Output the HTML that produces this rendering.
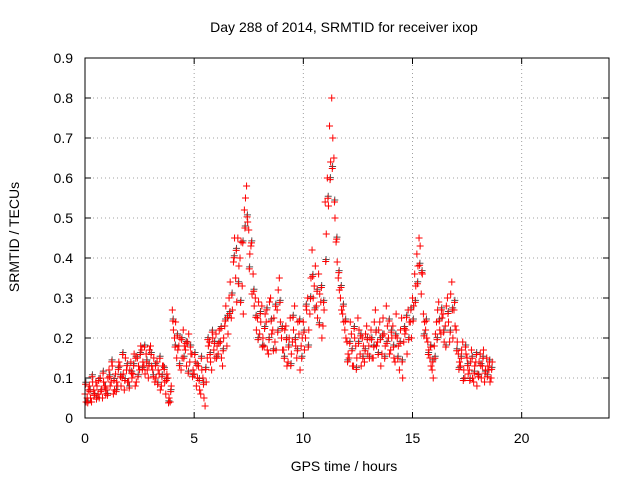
<!DOCTYPE html>
<html><head><meta charset="utf-8"><style>
body{margin:0;background:#fff}
svg{display:block;font-family:"Liberation Sans",sans-serif;font-size:14px}
</style></head><body>
<svg id="c" width="640" height="480">
<rect width="640" height="480" fill="#fff"/>
<text x="344" y="32" text-anchor="middle">Day 288 of 2014, SRMTID for receiver ixop</text>
<text x="344" y="471" text-anchor="middle">GPS time / hours</text>
<text transform="translate(19,237) rotate(-90)" text-anchor="middle">SRMTID / TECUs</text>
<g id="grid"></g><g id="ticks"></g><g id="marks"></g>
<rect x="85" y="58" width="524" height="360" fill="none" stroke="#000"/>
</svg>
<script>
const xTicks=[0,5,10,15,20];
const yTicks=[0,0.1,0.2,0.3,0.4,0.5,0.6,0.7,0.8,0.9];
const seriesStart=0, seriesStep=0.1;
const seriesA=[0.06,0.05,0.08,0.04,0.07,0.09,0.06,0.1,0.05,0.08,
0.07,0.12,0.09,0.06,0.11,0.08,0.13,0.1,0.07,0.12,
0.09,0.14,0.11,0.08,0.15,0.12,0.17,0.13,0.16,0.1,
0.18,0.12,0.09,0.14,0.11,0.08,0.13,0.06,0.1,0.04,
0.27,0.2,0.15,0.18,0.12,0.22,0.17,0.19,0.14,0.16,
0.11,0.08,0.13,0.06,0.1,0.03,0.15,0.19,0.12,0.17,
0.21,0.16,0.19,0.13,0.23,0.18,0.3,0.25,0.39,0.35,
0.45,0.4,0.33,0.52,0.58,0.47,0.43,0.36,0.3,0.25,
0.21,0.28,0.18,0.24,0.16,0.3,0.22,0.19,0.27,0.35,
0.2,0.17,0.23,0.14,0.25,0.19,0.28,0.15,0.21,0.18,
0.24,0.2,0.3,0.26,0.42,0.33,0.28,0.36,0.29,0.23,
0.54,0.6,0.73,0.8,0.65,0.44,0.35,0.3,0.26,0.22,
0.19,0.15,0.21,0.13,0.18,0.25,0.16,0.2,0.14,0.23,
0.18,0.22,0.15,0.27,0.19,0.24,0.16,0.21,0.28,0.2,
0.17,0.23,0.14,0.2,0.12,0.25,0.19,0.22,0.27,0.24,
0.3,0.36,0.41,0.45,0.31,0.26,0.22,0.19,0.15,0.12,
0.18,0.24,0.29,0.21,0.26,0.23,0.3,0.19,0.34,0.27,
0.22,0.16,0.13,0.19,0.1,0.15,0.12,0.17,0.09,0.14,
0.11,0.16,0.13,0.09,0.15,0.12,0.1];
const seriesB=[0.04,0.07,0.05,0.09,0.06,0.08,0.05,0.07,0.09,0.06,
0.1,0.08,0.13,0.07,0.09,0.14,0.08,0.11,0.15,0.09,
0.12,0.1,0.16,0.09,0.13,0.18,0.14,0.11,0.12,0.17,
0.13,0.15,0.1,0.12,0.07,0.13,0.09,0.11,0.05,0.08,
0.22,0.24,0.17,0.2,0.15,0.18,0.13,0.21,0.16,0.12,
0.14,0.1,0.07,0.12,0.05,0.09,0.18,0.14,0.2,0.15,
0.18,0.22,0.15,0.2,0.28,0.21,0.34,0.27,0.45,0.29,
0.38,0.44,0.26,0.55,0.49,0.41,0.31,0.28,0.22,0.29,
0.24,0.2,0.26,0.17,0.29,0.21,0.25,0.17,0.32,0.24,
0.17,0.22,0.13,0.2,0.16,0.22,0.18,0.24,0.12,0.2,
0.17,0.27,0.22,0.35,0.3,0.38,0.25,0.31,0.2,0.27,
0.46,0.53,0.64,0.7,0.5,0.39,0.32,0.27,0.24,0.2,
0.16,0.24,0.13,0.2,0.15,0.22,0.13,0.18,0.21,0.16,
0.2,0.15,0.24,0.18,0.22,0.13,0.25,0.18,0.23,0.16,
0.2,0.15,0.26,0.18,0.22,0.1,0.21,0.16,0.24,0.2,
0.28,0.33,0.38,0.43,0.36,0.24,0.2,0.17,0.13,0.1,
0.21,0.27,0.22,0.25,0.19,0.28,0.24,0.31,0.2,0.23,
0.19,0.14,0.17,0.12,0.16,0.11,0.14,0.1,0.13,0.08,
0.14,0.1,0.17,0.12,0.13,0.09,0.14];
const seriesC=[0.08,0.03,0.06,0.1,0.05,0.04,0.09,0.06,0.11,0.07,
0.05,0.1,0.14,0.09,0.06,0.12,0.1,0.16,0.09,0.13,
0.07,0.11,0.13,0.15,0.1,0.16,0.12,0.18,0.14,0.13,
0.16,0.1,0.13,0.08,0.15,0.1,0.12,0.09,0.03,0.06,
0.25,0.18,0.21,0.13,0.2,0.15,0.19,0.11,0.18,0.1,
0.16,0.13,0.09,0.15,0.08,0.12,0.2,0.16,0.22,0.19,
0.15,0.19,0.23,0.17,0.25,0.26,0.27,0.32,0.42,0.44,
0.35,0.3,0.46,0.5,0.53,0.39,0.46,0.33,0.26,0.2,
0.27,0.18,0.23,0.28,0.2,0.25,0.17,0.29,0.22,0.3,
0.23,0.15,0.2,0.18,0.13,0.26,0.2,0.17,0.25,0.15,
0.22,0.29,0.18,0.31,0.37,0.28,0.33,0.24,0.34,0.3,
0.41,0.58,0.63,0.66,0.57,0.47,0.38,0.34,0.29,0.25,
0.14,0.19,0.17,0.23,0.12,0.19,0.21,0.15,0.17,0.2,
0.15,0.2,0.18,0.22,0.16,0.2,0.21,0.15,0.19,0.25,
0.22,0.18,0.21,0.15,0.19,0.14,0.23,0.26,0.2,0.28,
0.25,0.3,0.35,0.4,0.38,0.21,0.25,0.16,0.18,0.14,
0.15,0.2,0.25,0.28,0.22,0.18,0.27,0.22,0.28,0.3,
0.17,0.12,0.15,0.09,0.18,0.13,0.09,0.15,0.11,0.16,
0.1,0.13,0.15,0.11,0.1,0.14,0.12];
const NS="http://www.w3.org/2000/svg";
const X0=85,X1=609,Y0=418,Y1=58;
function xs(v){return X0+(v-0)/(24-0)*(X1-X0);}
function ys(v){return Y0-(v-0)/(0.9-0)*(Y0-Y1);}
function mk(tag,a,p){const e=document.createElementNS(NS,tag);for(const k in a)e.setAttribute(k,a[k]);p.appendChild(e);return e;}
const grid=document.getElementById('grid'),ticks=document.getElementById('ticks'),marks=document.getElementById('marks');
xTicks.forEach(t=>{const x=xs(t);
 if(t>0){const g=mk('line',{x1:x,x2:x,y1:Y0,y2:Y1,stroke:'#a0a0a0','stroke-dasharray':'1,3'},grid);
 
 }
 const l=mk('text',{x:x,y:Y0+25,'text-anchor':'middle'},ticks);l.textContent=t;
 
 
 mk('line',{x1:x,x2:x,y1:Y0,y2:Y0-6,stroke:'#000'},ticks);mk('line',{x1:x,x2:x,y1:Y1,y2:Y1+6,stroke:'#000'},ticks);});
yTicks.forEach(t=>{const y=ys(t);
 if(t>0){const g=mk('line',{x1:X0,x2:X1,y1:y,y2:y,stroke:'#a0a0a0','stroke-dasharray':'1,3'},grid);
 
 }
 const l=mk('text',{x:X0-12,y:y+5,'text-anchor':'end'},ticks);l.textContent=t;
 
 
 mk('line',{x1:X0,x2:X0+6,y1:y,y2:y,stroke:'#000'},ticks);mk('line',{x1:X1,x2:X1-6,y1:y,y2:y,stroke:'#000'},ticks);});
function plus(v,t,col){const x=xs(t),y=ys(v);
 const p=mk('path',{d:`M${x-3.5},${y}h7M${x},${y-3.5}v7`,stroke:col,'stroke-width':1,fill:'none'},marks);
 
 }
seriesC.forEach((v,i)=>plus(v*0.93+0.015,seriesStart+0.04+i*seriesStep,'#505050'));
seriesA.forEach((v,i)=>plus(v,seriesStart+i*seriesStep,'#ff0000'));
seriesB.forEach((v,i)=>plus(v,seriesStart+0.05+i*seriesStep,'#ff0000'));
seriesC.forEach((v,i)=>plus(v*0.93+0.01,seriesStart+0.025+i*seriesStep,'#ff0000'));
</script>
</body></html>
